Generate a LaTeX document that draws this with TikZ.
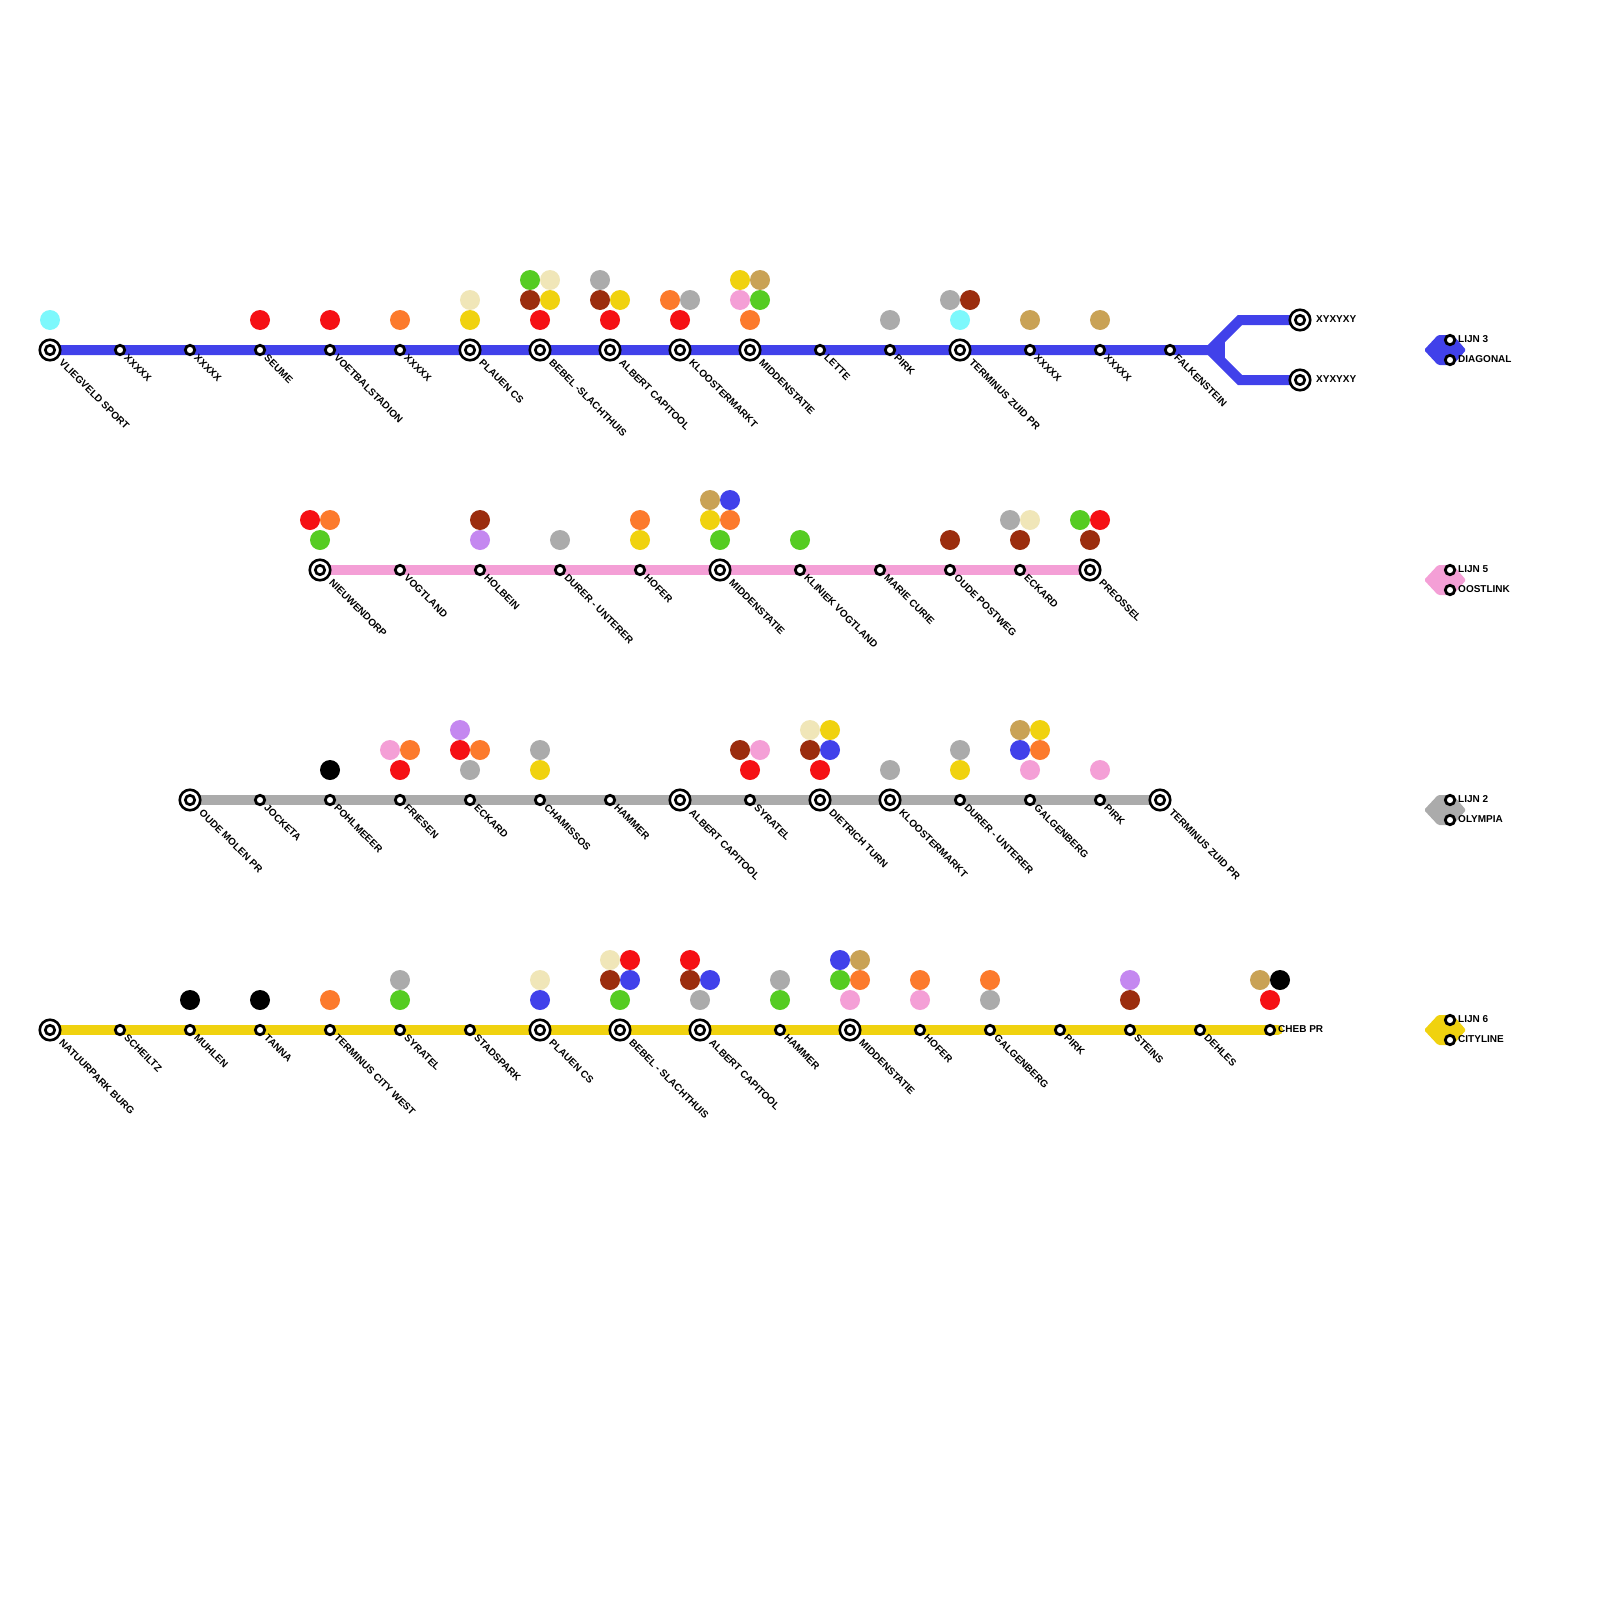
\documentclass[tikz,border=0pt]{standalone}
\usepackage{fontspec}
\setmainfont{Liberation Sans}
\usepackage{xcolor}
\usetikzlibrary{calc, backgrounds}

\definecolor{cBlue}{HTML}{4141EA}
\definecolor{cPink}{HTML}{F49FD6}
\definecolor{cGray}{HTML}{ABABAB}
\definecolor{cYellow}{HTML}{F0D20F}
\definecolor{cRed}{HTML}{F51014}
\definecolor{cOrange}{HTML}{FC7A2C}
\definecolor{cBrown}{HTML}{9B2D0E}
\definecolor{cGreen}{HTML}{55CC22}
\definecolor{cCyan}{HTML}{7DF8FC}
\definecolor{cCream}{HTML}{F0E6B8}
\definecolor{cTan}{HTML}{C9A255}
\definecolor{cPurple}{HTML}{C488F0}

\begin{document}
\begin{tikzpicture}[
  x=1pt, y=-1pt,
  font=\bfseries\fontsize{10}{11}\selectfont,
  bigstop/.style={circle, draw=black, fill=white, line width=2.6pt,
        minimum size=20.5pt, inner sep=0pt,
        path picture={\draw[black, line width=2.7pt] (path picture bounding box.center) circle (4.7pt);}},
  smallstop/.style={circle, draw=black, fill=white, line width=2.8pt,
        minimum size=9.4pt, inner sep=0pt},
  stopname/.style={rotate=-45, anchor=west, inner sep=0pt},
  sidename/.style={anchor=west, inner sep=0pt},
  xfer/.style={circle, minimum size=20pt, inner sep=0pt},
  lijn/.style={line width=10pt},
  legendshape/.style={rounded corners=1.5pt},
]
\useasboundingbox (0,0) rectangle (1600,1600);

% --- Line 3: blue, with a fork at the east end ---
\foreach \x/\kind/\off/\lab [count=\i] in {
    50/bigstop/11/VLIEGVELD SPORT, 120/smallstop/6/XXXXX, 190/smallstop/6/XXXXX,
    260/smallstop/6/SEUME, 330/smallstop/6/VOETBALSTADION, 400/smallstop/6/XXXXX,
    470/bigstop/11/PLAUEN CS, 540/bigstop/11/BEBEL -SLACHTHUIS,
    610/bigstop/11/ALBERT CAPITOOL, 680/bigstop/11/KLOOSTERMARKT,
    750/bigstop/11/MIDDENSTATIE, 820/smallstop/6/LETTE, 890/smallstop/6/PIRK,
    960/bigstop/11/TERMINUS ZUID PR, 1030/smallstop/6/XXXXX, 1100/smallstop/6/XXXXX,
    1170/smallstop/6/FALKENSTEIN}{
  \node[\kind] (lthree\i) at (\x,350) {};
  \node[stopname] (lthreet\i) at ($(lthree\i)+(\off,\off)$) {\lab};
}
\node[bigstop] (forka) at (1300,320) {};
\node[bigstop] (forkb) at (1300,380) {};
\node[sidename] (forkat) at (1316,319) {XYXYXY};
\node[sidename] (forkbt) at (1316,379) {XYXYXY};
\coordinate (fork) at (1210,350);
\coordinate (forkup) at (1240,320);
\coordinate (forkdown) at (1240,380);

% --- Line 5: pink ---
\foreach \x/\kind/\off/\lab [count=\i] in {
    320/bigstop/11/NIEUWENDORP, 400/smallstop/6/VOGTLAND, 480/smallstop/6/HOLBEIN,
    560/smallstop/6/DURER - UNTERER, 640/smallstop/6/HOFER,
    720/bigstop/11/MIDDENSTATIE, 800/smallstop/6/KLINIEK VOGTLAND,
    880/smallstop/6/MARIE CURIE, 950/smallstop/6/OUDE POSTWEG,
    1020/smallstop/6/ECKARD, 1090/bigstop/11/PREOSSEL}{
  \node[\kind] (lfive\i) at (\x,570) {};
  \node[stopname] (lfivet\i) at ($(lfive\i)+(\off,\off)$) {\lab};
}

% --- Line 2: gray ---
\foreach \x/\kind/\off/\lab [count=\i] in {
    190/bigstop/11/OUDE MOLEN PR, 260/smallstop/6/JOCKETA, 330/smallstop/6/POHLMEEER,
    400/smallstop/6/FRIESEN, 470/smallstop/6/ECKARD, 540/smallstop/6/CHAMISSOS,
    610/smallstop/6/HAMMER, 680/bigstop/11/ALBERT CAPITOOL, 750/smallstop/6/SYRATEL,
    820/bigstop/11/DIETRICH TURN, 890/bigstop/11/KLOOSTERMARKT,
    960/smallstop/6/DURER - UNTERER, 1030/smallstop/6/GALGENBERG,
    1100/smallstop/6/PIRK, 1160/bigstop/11/TERMINUS ZUID PR}{
  \node[\kind] (ltwo\i) at (\x,800) {};
  \node[stopname] (ltwot\i) at ($(ltwo\i)+(\off,\off)$) {\lab};
}

% --- Line 6: yellow ---
\foreach \x/\kind/\off/\lab [count=\i] in {
    50/bigstop/11/NATUURPARK BURG, 120/smallstop/6/SCHEILTZ, 190/smallstop/6/MUHLEN,
    260/smallstop/6/TANNA, 330/smallstop/6/TERMINUS CITY WEST, 400/smallstop/6/SYRATEL,
    470/smallstop/6/STADSPARK, 540/bigstop/11/PLAUEN CS,
    620/bigstop/11/BEBEL - SLACHTHUIS, 700/bigstop/11/ALBERT CAPITOOL,
    780/smallstop/6/HAMMER, 850/bigstop/11/MIDDENSTATIE, 920/smallstop/6/HOFER,
    990/smallstop/6/GALGENBERG, 1060/smallstop/6/PIRK, 1130/smallstop/6/STEINS,
    1200/smallstop/6/DEHLES}{
  \node[\kind] (lsix\i) at (\x,1030) {};
  \node[stopname] (lsixt\i) at ($(lsix\i)+(\off,\off)$) {\lab};
}
\node[smallstop] (cheb) at (1270,1030) {};
\node[sidename] (chebt) at (1278,1029) {CHEB PR};
\coordinate (chebend) at (1278,1030);

% --- Track bands, behind the stops ---
\begin{scope}[on background layer]
  \draw[lijn, cBlue] (lthree1.center) -- (lthree17.center) -- (fork) -- (forkup) -- (forka.center);
  \draw[lijn, cBlue] (fork) -- (forkdown) -- (forkb.center);
  \fill[cBlue] (1214,341) -- (1225,341) -- (1225,359) -- (1214,359) -- cycle;
  \draw[lijn, cPink] (lfive1.center) -- (lfive11.center);
  \draw[lijn, cGray] (ltwo1.center) -- (ltwo15.center);
  \draw[lijn, cYellow, line cap=round] (lsix1.center) -- (chebend);
\end{scope}

% --- Transfer dots above the stops ---
\foreach \x/\y/\c [count=\i] in {
    50/320/cCyan, 260/320/cRed, 330/320/cRed, 400/320/cOrange,
    470/320/cYellow, 470/300/cCream,
    540/320/cRed, 530/300/cBrown, 550/300/cYellow, 530/280/cGreen, 550/280/cCream,
    610/320/cRed, 600/300/cBrown, 620/300/cYellow, 600/280/cGray,
    680/320/cRed, 670/300/cOrange, 690/300/cGray,
    750/320/cOrange, 740/300/cPink, 760/300/cGreen, 740/280/cYellow, 760/280/cTan,
    890/320/cGray, 960/320/cCyan, 950/300/cGray, 970/300/cBrown,
    1030/320/cTan, 1100/320/cTan,
    320/540/cGreen, 310/520/cRed, 330/520/cOrange,
    480/540/cPurple, 480/520/cBrown, 560/540/cGray,
    640/540/cYellow, 640/520/cOrange,
    720/540/cGreen, 710/520/cYellow, 730/520/cOrange, 710/500/cTan, 730/500/cBlue,
    800/540/cGreen, 950/540/cBrown,
    1020/540/cBrown, 1010/520/cGray, 1030/520/cCream,
    1090/540/cBrown, 1080/520/cGreen, 1100/520/cRed,
    330/770/black,
    400/770/cRed, 390/750/cPink, 410/750/cOrange,
    470/770/cGray, 460/750/cRed, 480/750/cOrange, 460/730/cPurple,
    540/770/cYellow, 540/750/cGray,
    750/770/cRed, 740/750/cBrown, 760/750/cPink,
    820/770/cRed, 810/750/cBrown, 830/750/cBlue, 810/730/cCream, 830/730/cYellow,
    890/770/cGray, 960/770/cYellow, 960/750/cGray,
    1030/770/cPink, 1020/750/cBlue, 1040/750/cOrange, 1020/730/cTan, 1040/730/cYellow,
    1100/770/cPink,
    190/1000/black, 260/1000/black, 330/1000/cOrange,
    400/1000/cGreen, 400/980/cGray,
    540/1000/cBlue, 540/980/cCream,
    620/1000/cGreen, 610/980/cBrown, 630/980/cBlue, 610/960/cCream, 630/960/cRed,
    700/1000/cGray, 690/980/cBrown, 710/980/cBlue, 690/960/cRed,
    780/1000/cGreen, 780/980/cGray,
    850/1000/cPink, 840/980/cGreen, 860/980/cOrange, 840/960/cBlue, 860/960/cTan,
    920/1000/cPink, 920/980/cOrange, 990/1000/cGray, 990/980/cOrange,
    1130/1000/cBrown, 1130/980/cPurple,
    1270/1000/cRed, 1260/980/cTan, 1280/980/black}{
  \node[xfer, fill=\c] (dot\i) at (\x,\y) {};
}

% --- Legend at the right ---
\foreach \y/\c/\nameA/\nameB [count=\i] in {
    350/cBlue/LIJN 3/DIAGONAL, 580/cPink/LIJN 5/OOSTLINK,
    810/cGray/LIJN 2/OLYMPIA, 1030/cYellow/LIJN 6/CITYLINE}{
  \fill[\c, legendshape] (1424,\y) -- ++(14,-15) -- ++(15,0) -- ++(13,15)
      -- ++(-13,15) -- ++(-15,0) -- cycle;
  \node[smallstop] (lega\i) at (1450,\y-10) {};
  \node[smallstop] (legb\i) at (1450,\y+10) {};
  \node[sidename] (legat\i) at (1458,\y-11) {\nameA};
  \node[sidename] (legbt\i) at (1458,\y+9) {\nameB};
}
\end{tikzpicture}
\end{document}
